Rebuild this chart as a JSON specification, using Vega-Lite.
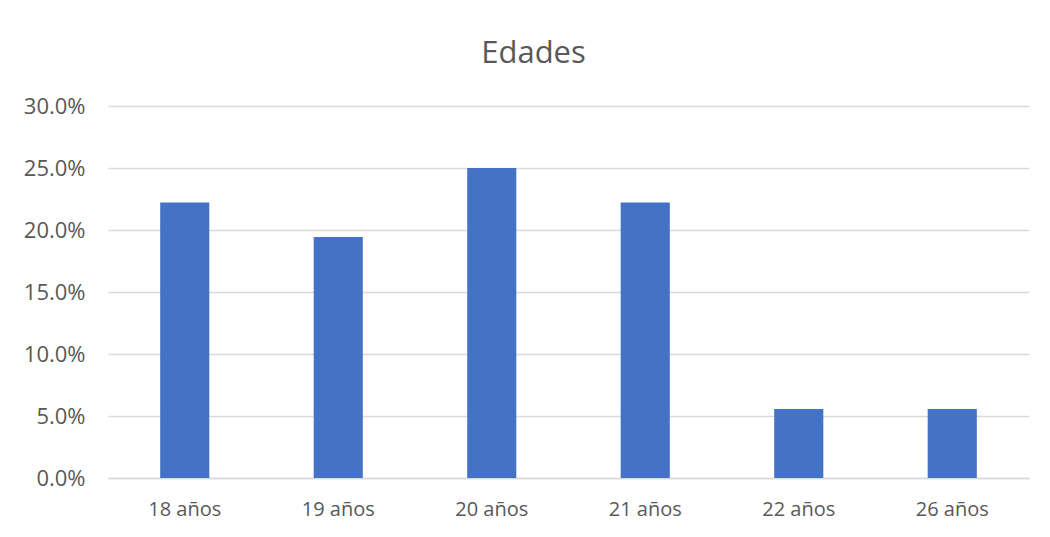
{
  "$schema": "https://vega.github.io/schema/vega-lite/v6.json",
  "autosize": {"type": "none"},
  "width": 921,
  "height": 372,
  "padding": {"left": 108, "top": 106, "right": 21, "bottom": 59},
  "background": "white",
  "title": {
    "text": "Edades",
    "font": "Open Sans",
    "fontSize": 31,
    "fontWeight": "normal",
    "color": "#595959",
    "anchor": "middle",
    "dx": -35,
    "offset": 25
  },
  "data": {
    "values": [
      {"edad": "18 años", "pct": 0.2222},
      {"edad": "19 años", "pct": 0.1944},
      {"edad": "20 años", "pct": 0.25},
      {"edad": "21 años", "pct": 0.2222},
      {"edad": "22 años", "pct": 0.0556},
      {"edad": "26 años", "pct": 0.0556}
    ]
  },
  "mark": {"type": "bar", "color": "#4472C4"},
  "encoding": {
    "x": {
      "field": "edad",
      "type": "nominal",
      "sort": null,
      "scale": {"paddingInner": 0.68, "paddingOuter": 0.34},
      "axis": {
        "title": null,
        "labelAngle": 0,
        "labelFont": "Open Sans",
        "labelFontSize": 20,
        "labelColor": "#595959",
        "labelPadding": 21,
        "ticks": false,
        "domain": true,
        "domainColor": "#d9d9d9",
        "domainWidth": 1.5,
        "grid": false
      }
    },
    "y": {
      "field": "pct",
      "type": "quantitative",
      "scale": {"domain": [0, 0.3], "nice": false},
      "axis": {
        "title": null,
        "values": [0, 0.05, 0.1, 0.15, 0.2, 0.25, 0.3],
        "format": ".1%",
        "labelFont": "Open Sans",
        "labelFontSize": 22,
        "labelColor": "#595959",
        "labelPadding": 23,
        "ticks": false,
        "domain": false,
        "grid": true,
        "gridColor": "#d9d9d9",
        "gridWidth": 1.5
      }
    }
  },
  "config": {"view": {"stroke": null}}
}
